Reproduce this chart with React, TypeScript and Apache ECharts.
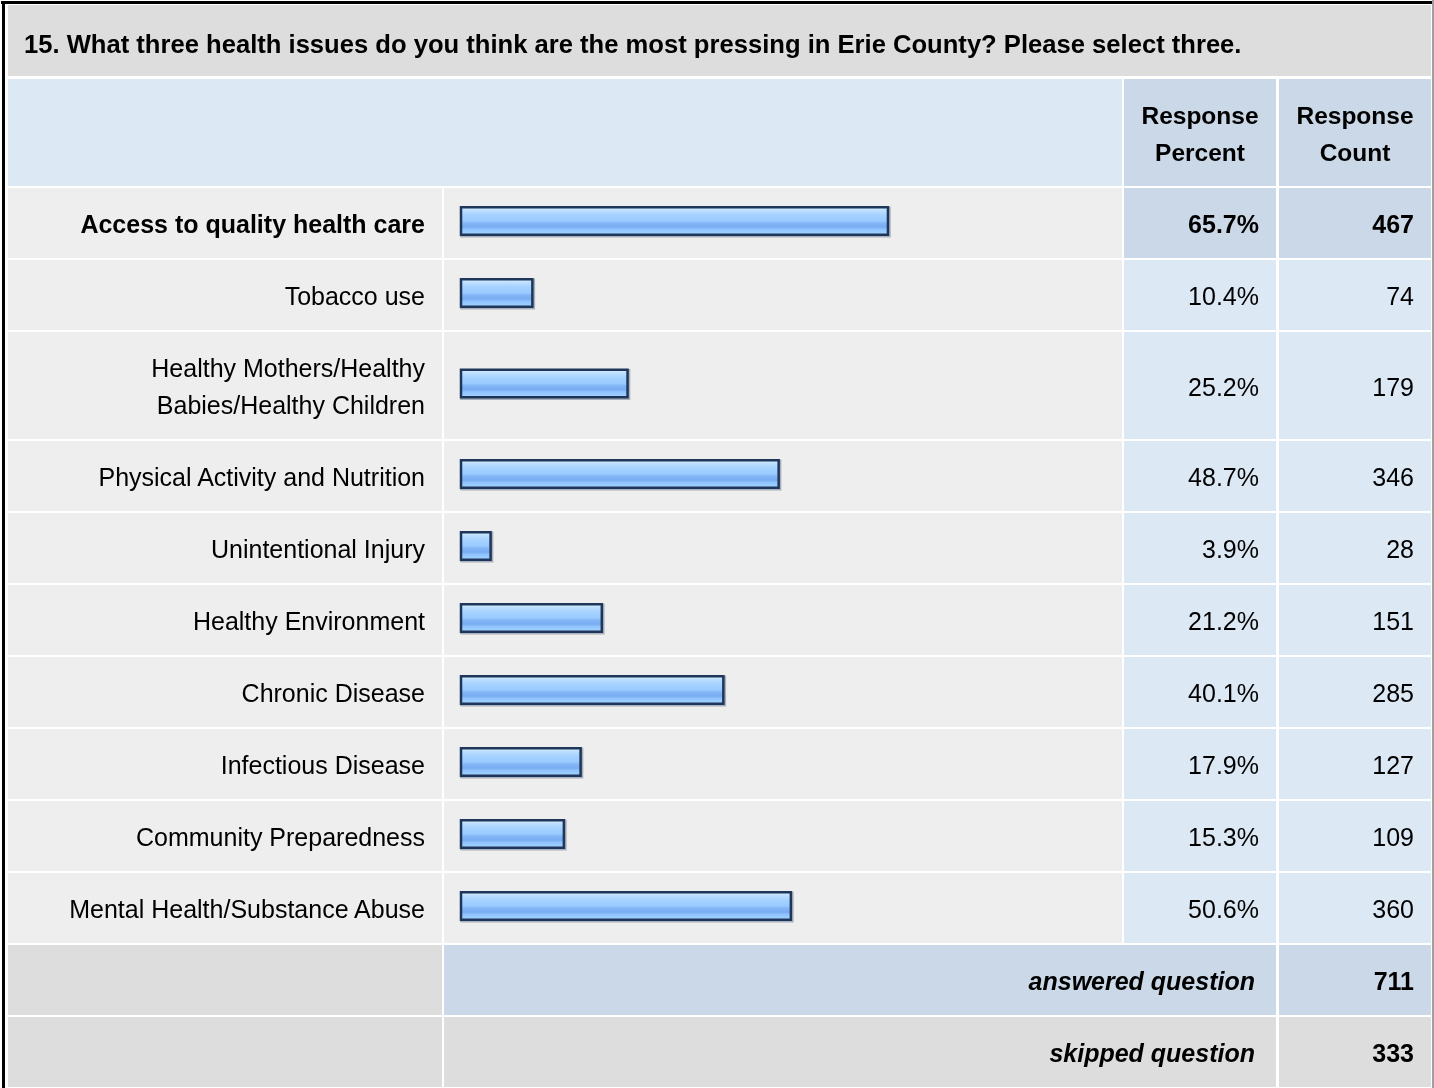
import React, { useEffect, useRef } from "react";
import * as echarts from "echarts";

// ---------- data ----------
const titleText =
  "15. What three health issues do you think are the most pressing in Erie County? Please select three.";
const headerPercent = ["Response", "Percent"];
const headerCount = ["Response", "Count"];
const categories = [
  "Access to quality health care",
  "Tobacco use",
  "Healthy Mothers/Healthy\nBabies/Healthy Children",
  "Physical Activity and Nutrition",
  "Unintentional Injury",
  "Healthy Environment",
  "Chronic Disease",
  "Infectious Disease",
  "Community Preparedness",
  "Mental Health/Substance Abuse",
];
const percents = [65.7, 10.4, 25.2, 48.7, 3.9, 21.2, 40.1, 17.9, 15.3, 50.6];
const counts = [467, 74, 179, 346, 28, 151, 285, 127, 109, 360];
const summaryLabels = ["answered question", "skipped question"];
const summaryCounts = [711, 333];
const highlightIndex = 0;

// ---------- layout ----------
const W = 1434;
const H = 1088;
const FONT = '"Liberation Sans", Arial, sans-serif';
const X0 = 8;
const XL1 = 442;
const XB0 = 444;
const XB1 = 1122;
const XP0 = 1124;
const XP1 = 1276;
const XC0 = 1279;
const XC1 = 1431;
const TITLE_TOP = 5;
const TITLE_BOTTOM = 76;
const HEAD_TOP = 79;
const HEAD_BOTTOM = 186;
const ROW_START = 188;
const ROW_GAP = 2;
const ROW_H = 70;
const ROW_H2 = 107;

const C_TITLE = "#dddddd";
const C_HEAD = "#dde8f5";
const C_HEAD_DARK = "#cbd8e7";
const C_ROW = "#eeeeee";
const C_ROW_BLUE = "#dde8f5";

export default function App() {
  const ref = useRef<HTMLDivElement>(null);

  useEffect(() => {
    if (!ref.current) return;
    const chart = echarts.init(ref.current, undefined, { renderer: "svg" });

    // row geometry
    const rowTops: number[] = [];
    const rowHeights: number[] = [];
    let y = ROW_START;
    categories.forEach((c) => {
      const h = c.includes("\n") ? ROW_H2 : ROW_H;
      rowTops.push(y);
      rowHeights.push(h);
      y += h + ROW_GAP;
    });
    const summaryTops: number[] = [];
    summaryLabels.forEach(() => {
      summaryTops.push(y);
      y += ROW_H + ROW_GAP;
    });

    const rect = (x0: number, y0: number, x1: number, y1: number, fill: string) => ({
      type: "rect",
      z: 0,
      silent: true,
      shape: { x: x0, y: y0, width: x1 - x0, height: y1 - y0 },
      style: { fill },
    });
    const text = (
      t: string,
      x: number,
      yy: number,
      align: string,
      weight = "normal",
      style = "normal",
      size = 25
    ) => ({
      type: "text",
      z: 5,
      silent: true,
      style: {
        text: t,
        x,
        y: yy,
        fill: "#000000",
        fontFamily: FONT,
        fontSize: size,
        fontWeight: weight,
        fontStyle: style,
        textAlign: align,
        textVerticalAlign: "middle",
        lineHeight: 37,
      },
    });

    const els: any[] = [];
    // outer frame
    els.push(rect(0, 0, W, H, "#ffffff"));
    els.push(rect(1, 1, 1432, 4, "#000000"));
    els.push(rect(2, 1, 5, H, "#000000"));
    els.push(rect(1432, 0, 1434, H, "#a0a0a0"));
    // title
    els.push(rect(X0, TITLE_TOP, XC1, TITLE_BOTTOM, C_TITLE));
    els.push(text(titleText, 24, (TITLE_TOP + TITLE_BOTTOM) / 2 + 3, "left", "bold", "normal", 25.6));
    // header
    els.push(rect(X0, HEAD_TOP, XB1, HEAD_BOTTOM, C_HEAD));
    els.push(rect(XP0, HEAD_TOP, XP1, HEAD_BOTTOM, C_HEAD_DARK));
    els.push(rect(XC0, HEAD_TOP, XC1, HEAD_BOTTOM, C_HEAD_DARK));
    const hc = (HEAD_TOP + HEAD_BOTTOM) / 2 + 1;
    els.push(text(headerPercent.join("\n"), (XP0 + XP1) / 2, hc, "center", "bold", "normal", 24.5));
    els.push(text(headerCount.join("\n"), (XC0 + XC1) / 2, hc, "center", "bold", "normal", 24.5));

    // data rows
    categories.forEach((c, i) => {
      const t = rowTops[i];
      const b = t + rowHeights[i];
      const hl = i === highlightIndex;
      els.push(rect(X0, t, XL1, b, C_ROW));
      els.push(rect(XB0, t, XB1, b, C_ROW));
      els.push(rect(XP0, t, XP1, b, hl ? C_HEAD_DARK : C_ROW_BLUE));
      els.push(rect(XC0, t, XC1, b, hl ? C_HEAD_DARK : C_ROW_BLUE));
      const cy = (t + b) / 2 + 1;
      const w = hl ? "bold" : "normal";
      els.push(text(c, 425, cy, "right", w));
      els.push(text(percents[i].toFixed(1) + "%", 1259, cy, "right", w));
      els.push(text(String(counts[i]), 1414, cy, "right", w));
    });

    // summary rows
    summaryLabels.forEach((l, i) => {
      const t = summaryTops[i];
      const b = Math.min(t + ROW_H, H);
      const mid = i === 0 ? C_HEAD_DARK : C_TITLE;
      els.push(rect(X0, t, XL1, b, C_TITLE));
      els.push(rect(XB0, t, XP1, b, mid));
      els.push(rect(XC0, t, XC1, b, mid));
      const cy = t + ROW_H / 2 + 1;
      els.push(text(l, 1255, cy, "right", "bold", "italic"));
      els.push(text(String(summaryCounts[i]), 1414, cy, "right", "bold"));
    });

    const barData = percents.map((p, i) => [p, rowTops[i] + rowHeights[i] / 2 - 2]);

    const gradient = new echarts.graphic.LinearGradient(0, 0, 0, 1, [
      { offset: 0, color: "#d6ecff" },
      { offset: 0.15, color: "#b8dcff" },
      { offset: 0.3, color: "#a4d1ff" },
      { offset: 0.5, color: "#9acaff" },
      { offset: 0.58, color: "#82b6f6" },
      { offset: 0.72, color: "#78acf0" },
      { offset: 0.8, color: "#8ec3ff" },
      { offset: 1, color: "#a6d4ff" },
    ]);

    chart.setOption({
      animation: false,
      grid: { left: 461, width: 643, top: 0, height: H },
      xAxis: { type: "value", min: 0, max: 100, show: false },
      yAxis: { type: "value", min: 0, max: H, inverse: true, show: false },
      graphic: { elements: els },
      series: [
        {
          type: "custom",
          z: 10,
          silent: true,
          data: barData,
          encode: { x: 0, y: 1 },
          renderItem: (params: any, api: any) => {
            const p = api.value(0);
            const yc = api.value(1);
            const s = api.coord([0, yc]);
            const e = api.coord([p, yc]);
            const h = 27.5;
            const w = e[0] - s[0] + 4.5;
            return {
              type: "group",
              children: [
                {
                  type: "rect",
                  shape: { x: s[0] + 0.5, y: s[1] - h / 2 + 0.5, width: w + 1, height: h + 1 },
                  style: { fill: "none", stroke: "#a8b0bc", lineWidth: 2.5 },
                },
                {
                  type: "rect",
                  shape: { x: s[0], y: s[1] - h / 2, width: w, height: h },
                  style: { fill: gradient, stroke: "#1e365a", lineWidth: 2.5 },
                },
              ],
            };
          },
        },
      ],
    });

    return () => chart.dispose();
  }, []);

  return (
    <div
      ref={ref}
      style={{ position: "fixed", left: 0, top: 0, width: W, height: H }}
    />
  );
}
